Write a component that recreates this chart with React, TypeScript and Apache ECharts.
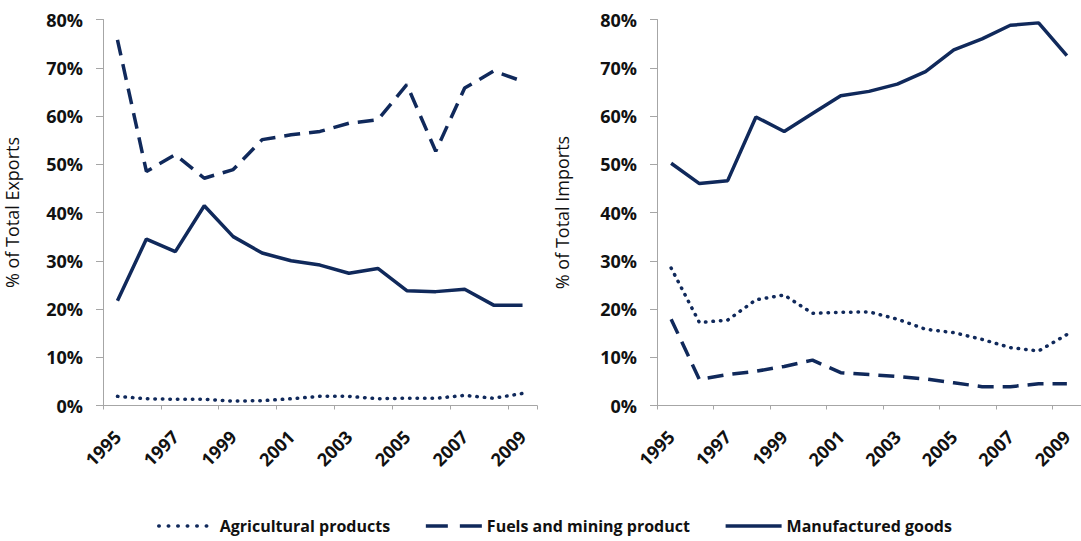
import React, { useEffect, useRef } from "react";
import * as echarts from "echarts";

const years = ["1995", "1996", "1997", "1998", "1999", "2000", "2001", "2002", "2003", "2004", "2005", "2006", "2007", "2008", "2009"];

const seriesNames = ["Agricultural products", "Fuels and mining product", "Manufactured goods"];

const exportsAgri = [1.9, 1.4, 1.3, 1.3, 0.9, 1.0, 1.4, 1.9, 1.9, 1.4, 1.5, 1.5, 2.1, 1.5, 2.5];
const exportsFuel = [75.8, 48.5, 52.0, 47.1, 48.9, 55.1, 56.1, 56.8, 58.5, 59.2, 66.5, 52.7, 65.8, 69.3, 67.2];
const exportsManu = [21.7, 34.5, 31.9, 41.4, 35.0, 31.6, 30.0, 29.1, 27.4, 28.4, 23.8, 23.6, 24.1, 20.8, 20.8];

const importsAgri = [28.5, 17.2, 17.7, 21.9, 22.9, 19.1, 19.3, 19.4, 17.9, 15.8, 15.1, 13.7, 12.0, 11.3, 14.7];
const importsFuel = [17.9, 5.4, 6.4, 7.1, 8.1, 9.4, 6.8, 6.4, 6.0, 5.5, 4.7, 3.9, 3.9, 4.5, 4.5];
const importsManu = [50.2, 46.0, 46.6, 59.8, 56.8, 60.5, 64.2, 65.1, 66.6, 69.2, 73.7, 76.0, 78.8, 79.3, 72.5];

const yAxisNames = ["% of Total Exports", "% of Total Imports"];

const COLOR = "#10295b";
const FONT = "Open Sans";

function lineStyleFor(idx: number) {
  if (idx === 0) return { color: COLOR, width: 3.5, type: [0.5, 7] as any, cap: "round" as const };
  if (idx === 1) return { color: COLOR, width: 3.5, type: [16, 9] as any, cap: "butt" as const };
  return { color: COLOR, width: 3.5, type: "solid" as const, cap: "butt" as const };
}

const legendDash: any[] = [[0.5, 9], [22, 12], "solid"];

export default function App() {
  const ref = useRef<HTMLDivElement>(null);
  useEffect(() => {
    if (!ref.current) return;
    const chart = echarts.init(ref.current, null, { renderer: "svg" });
    const mkX = (gridIndex: number) => ({
      type: "category" as const,
      gridIndex,
      data: years,
      boundaryGap: true,
      axisLine: { lineStyle: { color: "#a6a6a6", width: 1 } },
      axisTick: { show: true, length: 4, inside: false, lineStyle: { color: "#a6a6a6" } },
      axisLabel: {
        interval: 1,
        rotate: 45,
        margin: 28,
        color: "#111",
        fontFamily: FONT,
        fontWeight: "bold" as const,
        fontSize: 18,
      },
      splitLine: { show: false },
    });
    const mkY = (gridIndex: number, gap: number) => ({
      type: "value" as const,
      gridIndex,
      min: 0,
      max: 80,
      interval: 10,
      name: yAxisNames[gridIndex],
      nameLocation: "middle" as const,
      nameGap: gap,
      nameTextStyle: { fontFamily: FONT, fontSize: 18, color: "#111" },
      axisLine: { show: true, lineStyle: { color: "#a6a6a6", width: 1 } },
      axisTick: { show: true, length: 7, lineStyle: { color: "#a6a6a6" } },
      axisLabel: {
        formatter: "{value}%",
        margin: 20,
        color: "#111",
        fontFamily: FONT,
        fontWeight: "bold" as const,
        fontSize: 18,
      },
      splitLine: { show: false },
    });
    const data = [
      [exportsAgri, exportsFuel, exportsManu],
      [importsAgri, importsFuel, importsManu],
    ];
    const series: any[] = [];
    data.forEach((group, g) => {
      group.forEach((vals, i) => {
        series.push({
          type: "line",
          name: seriesNames[i],
          xAxisIndex: g,
          yAxisIndex: g,
          data: vals,
          symbol: "none",
          smooth: false,
          lineStyle: lineStyleFor(i),
          itemStyle: { color: COLOR },
        });
      });
    });
    chart.setOption({
      animation: false,
      backgroundColor: "#ffffff",
      grid: [
        { left: 103, top: 19.5, width: 434, height: 386 },
        { left: 657, top: 19.5, width: 429, height: 386 },
      ],
      xAxis: [mkX(0), mkX(1)],
      yAxis: [mkY(0, 82), mkY(1, 86)],
      legend: {
        data: seriesNames.map((name, i) => ({
          name,
          lineStyle: { type: legendDash[i], width: 3.5, color: COLOR, cap: i === 0 ? "round" : "butt" },
        })),
        left: 152,
        top: 513,
        itemWidth: 56,
        itemHeight: 14,
        itemGap: 34,
        itemStyle: { color: "rgba(0,0,0,0)", opacity: 0, borderWidth: 0 },
        textStyle: { fontFamily: FONT, fontWeight: "bold", fontSize: 16, color: "#111" },
      },
      series,
    });
    return () => chart.dispose();
  }, []);
  return (
    <div
      ref={ref}
      style={{ position: "absolute", left: 0, top: 0, width: 1081, height: 541 }}
    />
  );
}
